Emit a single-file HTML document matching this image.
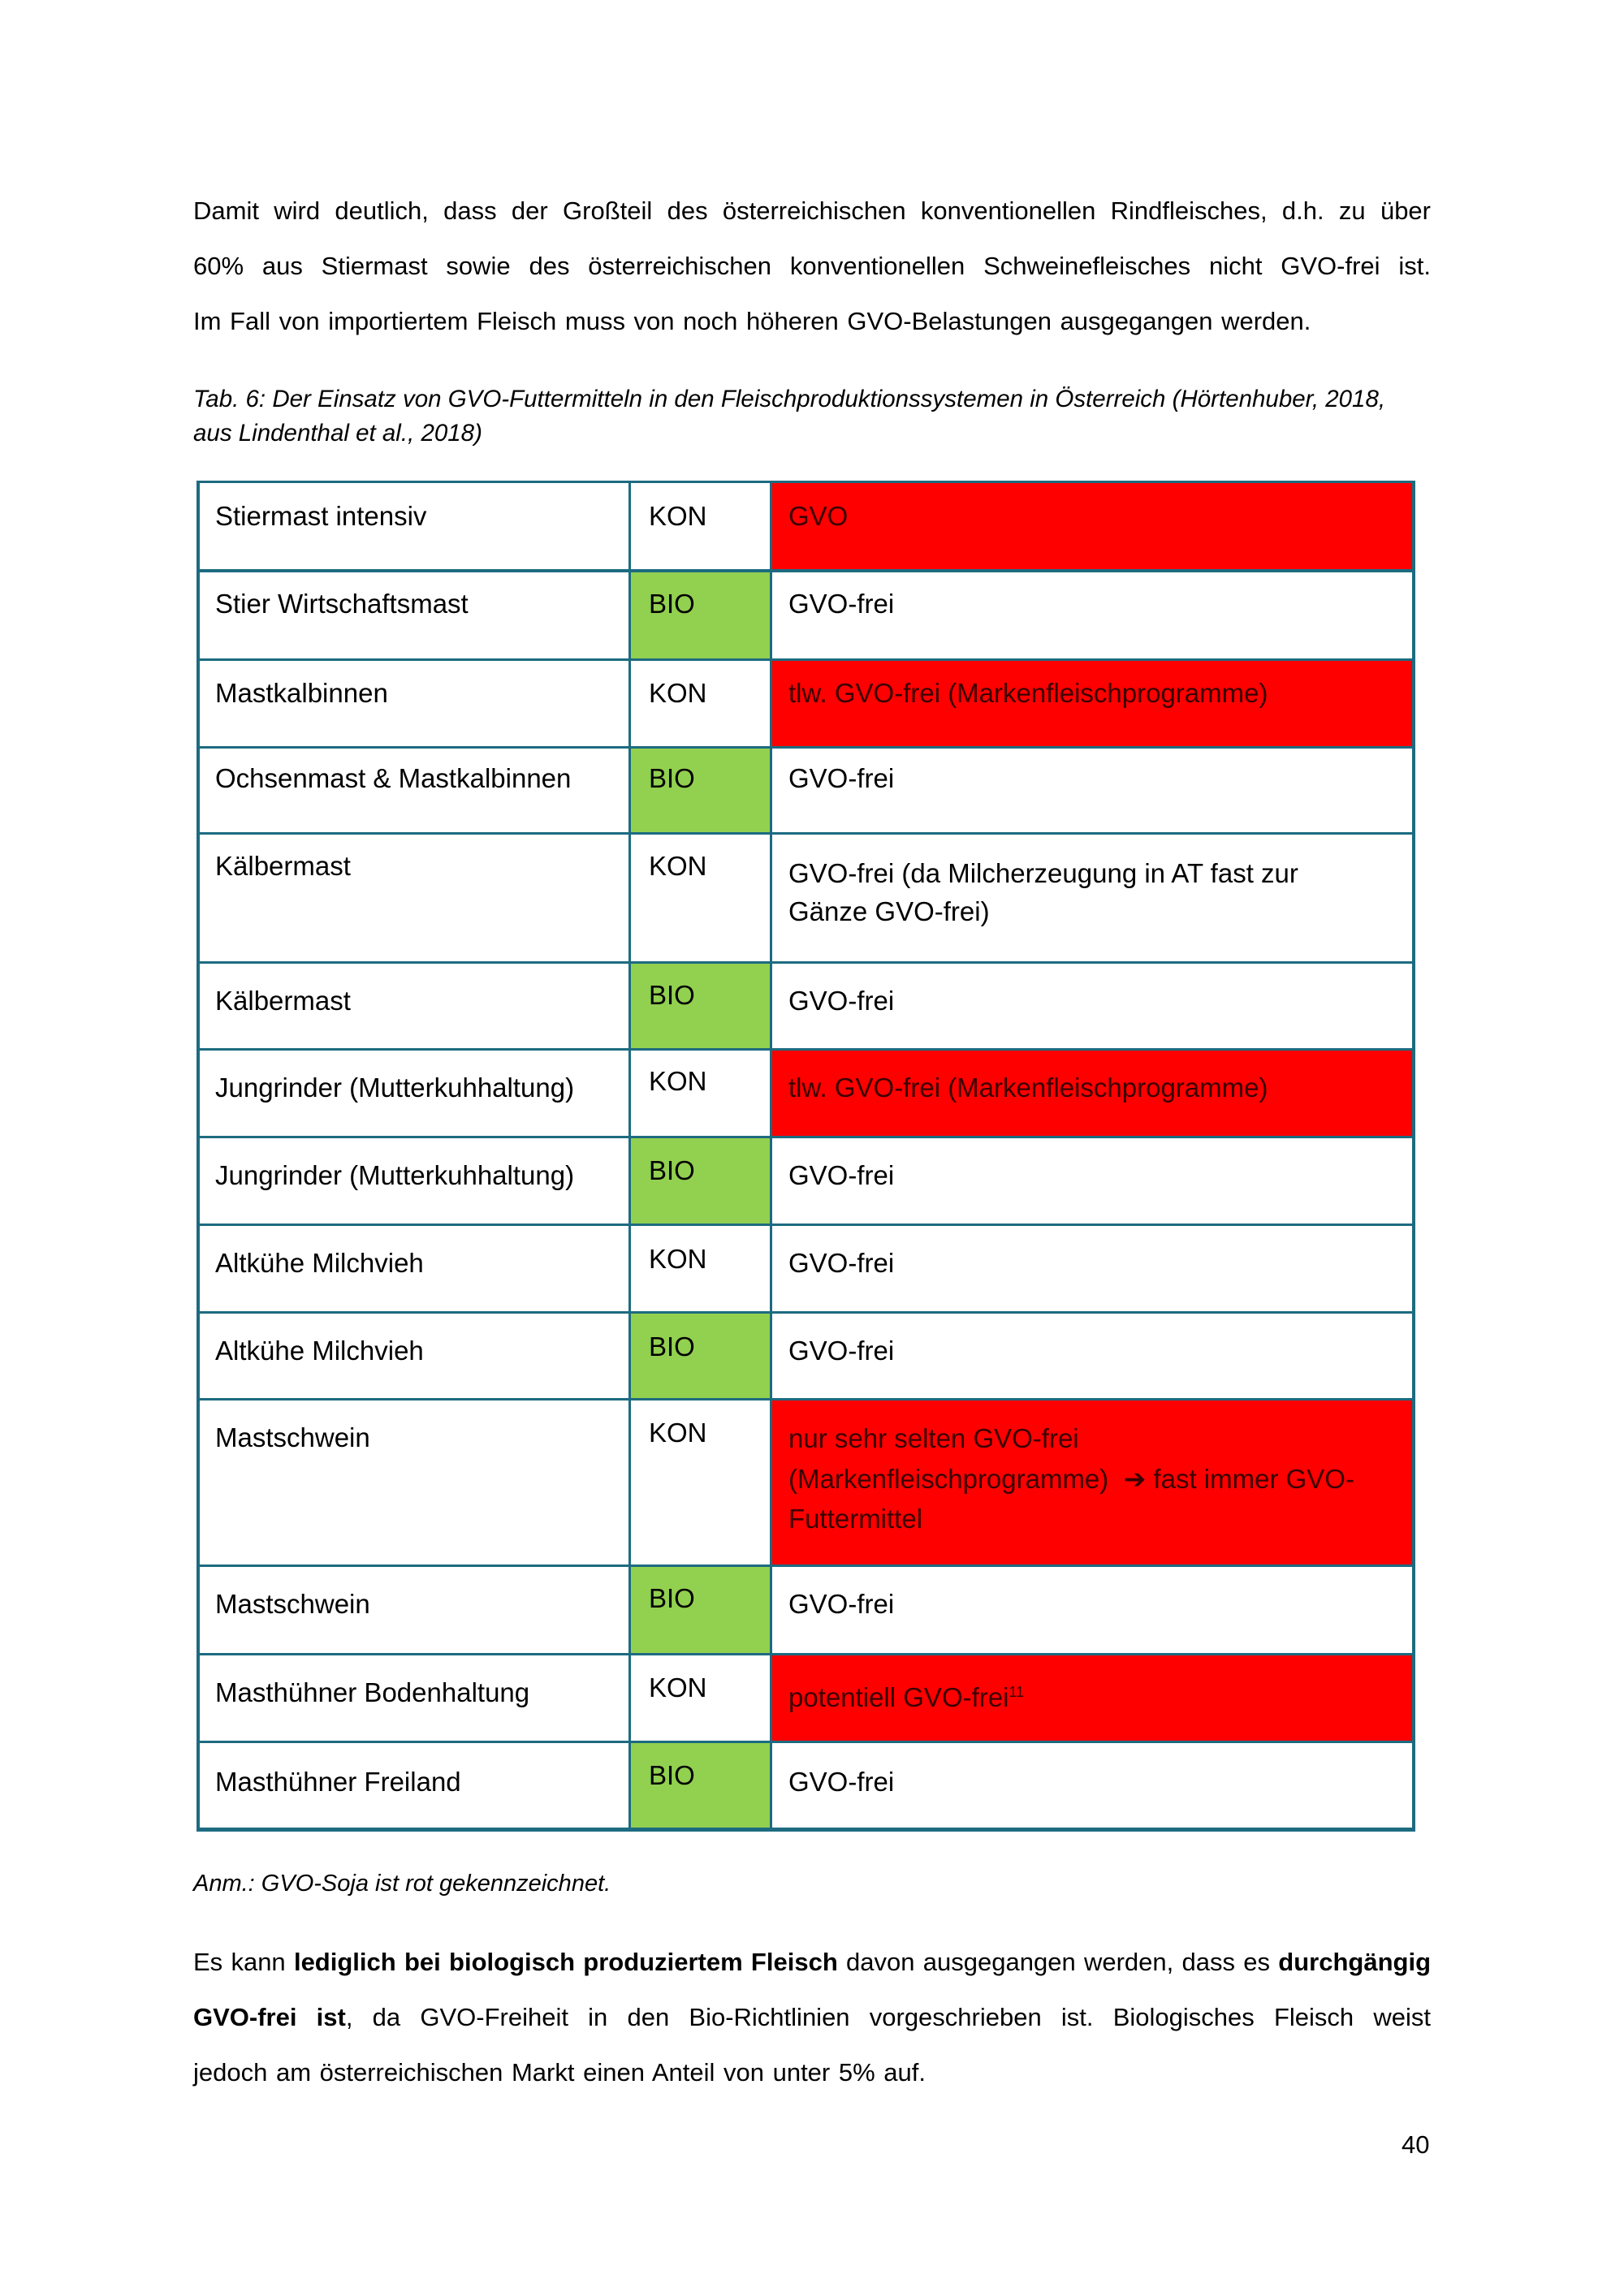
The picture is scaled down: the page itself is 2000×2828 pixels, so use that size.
<!DOCTYPE html>
<html><head><meta charset="utf-8"><style>
body{margin:0;background:#fff}
#p{position:relative;width:2000px;height:2828px;overflow:hidden;font-family:"Liberation Sans",sans-serif;color:#000}
.t{position:absolute;white-space:nowrap;line-height:47px;font-size:33px}
.para{position:absolute;left:238px;width:1524px;font-size:31px;line-height:68px;text-align:justify;text-align-last:justify}
.b{position:absolute}
.h{position:absolute;left:243px;width:1498px;height:3px;background:#1d6b80}
.v{position:absolute;width:3px;background:#1d6b80}
.dr{color:#3a0000}
</style></head><body><div id="p">
<div class="para" style="top:226px">Damit wird deutlich, dass der Großteil des österreichischen konventionellen Rindfleisches, d.h. zu über</div>
<div class="para" style="top:294px">60% aus Stiermast sowie des österreichischen konventionellen Schweinefleisches nicht GVO-frei ist.</div>
<div class="para" style="top:362px;text-align-last:left;word-spacing:2px">Im Fall von importiertem Fleisch muss von noch höheren GVO-Belastungen ausgegangen werden.</div>
<div class="t" style="left:238px;top:472px;font-size:29.5px;font-style:italic;line-height:40px">Tab. 6: Der Einsatz von GVO-Futtermitteln in den Fleischproduktionssystemen in Österreich (Hörtenhuber, 2018,</div>
<div class="t" style="left:238px;top:514px;font-size:29.5px;font-style:italic;line-height:40px">aus Lindenthal et al., 2018)</div>

<div class="b" style="left:949px;top:593px;width:792px;height:109px;background:#f00"></div>
<div class="b" style="left:775px;top:702px;width:174px;height:110px;background:#92d050"></div>
<div class="b" style="left:949px;top:812px;width:792px;height:108px;background:#f00"></div>
<div class="b" style="left:775px;top:920px;width:174px;height:106px;background:#92d050"></div>
<div class="b" style="left:775px;top:1185px;width:174px;height:107px;background:#92d050"></div>
<div class="b" style="left:949px;top:1292px;width:792px;height:108px;background:#f00"></div>
<div class="b" style="left:775px;top:1400px;width:174px;height:108px;background:#92d050"></div>
<div class="b" style="left:775px;top:1616px;width:174px;height:107px;background:#92d050"></div>
<div class="b" style="left:949px;top:1723px;width:792px;height:205px;background:#f00"></div>
<div class="b" style="left:775px;top:1928px;width:174px;height:109px;background:#92d050"></div>
<div class="b" style="left:949px;top:2037px;width:792px;height:108px;background:#f00"></div>
<div class="b" style="left:775px;top:2145px;width:174px;height:108px;background:#92d050"></div>

<div class="h" style="top:592px"></div>
<div class="h" style="top:701px;height:4px"></div>
<div class="h" style="top:811px"></div>
<div class="h" style="top:919px"></div>
<div class="h" style="top:1025px"></div>
<div class="h" style="top:1184px"></div>
<div class="h" style="top:1291px"></div>
<div class="h" style="top:1399px"></div>
<div class="h" style="top:1507px"></div>
<div class="h" style="top:1615px"></div>
<div class="h" style="top:1722px"></div>
<div class="h" style="top:1927px"></div>
<div class="h" style="top:2036px"></div>
<div class="h" style="top:2144px"></div>
<div class="h" style="top:2251px;height:5px"></div>
<div class="v" style="left:242px;top:592px;height:1664px;width:4px"></div>
<div class="v" style="left:774px;top:592px;height:1664px"></div>
<div class="v" style="left:948px;top:592px;height:1664px"></div>
<div class="v" style="left:1739px;top:592px;height:1664px;width:4px"></div>

<div class="t" style="left:265px;top:612px">Stiermast intensiv</div>
<div class="t" style="left:265px;top:720px">Stier Wirtschaftsmast</div>
<div class="t" style="left:265px;top:830px">Mastkalbinnen</div>
<div class="t" style="left:265px;top:935px">Ochsenmast &amp; Mastkalbinnen</div>
<div class="t" style="left:265px;top:1043px">Kälbermast</div>
<div class="t" style="left:265px;top:1209px">Kälbermast</div>
<div class="t" style="left:265px;top:1316px">Jungrinder (Mutterkuhhaltung)</div>
<div class="t" style="left:265px;top:1424px">Jungrinder (Mutterkuhhaltung)</div>
<div class="t" style="left:265px;top:1532px">Altkühe Milchvieh</div>
<div class="t" style="left:265px;top:1640px">Altkühe Milchvieh</div>
<div class="t" style="left:265px;top:1747px">Mastschwein</div>
<div class="t" style="left:265px;top:1952px">Mastschwein</div>
<div class="t" style="left:265px;top:2061px">Masthühner Bodenhaltung</div>
<div class="t" style="left:265px;top:2171px">Masthühner Freiland</div>

<div class="t" style="left:799px;top:612px">KON</div>
<div class="t" style="left:799px;top:720px">BIO</div>
<div class="t" style="left:799px;top:830px">KON</div>
<div class="t" style="left:799px;top:935px">BIO</div>
<div class="t" style="left:799px;top:1043px">KON</div>
<div class="t" style="left:799px;top:1202px">BIO</div>
<div class="t" style="left:799px;top:1308px">KON</div>
<div class="t" style="left:799px;top:1418px">BIO</div>
<div class="t" style="left:799px;top:1527px">KON</div>
<div class="t" style="left:799px;top:1635px">BIO</div>
<div class="t" style="left:799px;top:1741px">KON</div>
<div class="t" style="left:799px;top:1945px">BIO</div>
<div class="t" style="left:799px;top:2055px">KON</div>
<div class="t" style="left:799px;top:2163px">BIO</div>

<div class="t dr" style="left:971px;top:612px">GVO</div>
<div class="t" style="left:971px;top:720px">GVO-frei</div>
<div class="t dr" style="left:971px;top:830px">tlw. GVO-frei (Markenfleischprogramme)</div>
<div class="t" style="left:971px;top:935px">GVO-frei</div>
<div class="t" style="left:971px;top:1052px;line-height:47px">GVO-frei (da Milcherzeugung in AT fast zur<br>Gänze GVO-frei)</div>
<div class="t" style="left:971px;top:1209px">GVO-frei</div>
<div class="t dr" style="left:971px;top:1316px">tlw. GVO-frei (Markenfleischprogramme)</div>
<div class="t" style="left:971px;top:1424px">GVO-frei</div>
<div class="t" style="left:971px;top:1532px">GVO-frei</div>
<div class="t" style="left:971px;top:1640px">GVO-frei</div>
<div class="t dr" style="left:971px;top:1747px;line-height:49.5px">nur sehr selten GVO-frei<br>(Markenfleischprogramme) &nbsp;<b style="font-family:'DejaVu Sans'">➔</b> fast immer GVO-<br>Futtermittel</div>
<div class="t" style="left:971px;top:1952px">GVO-frei</div>
<div class="t dr" style="left:971px;top:2061px">potentiell GVO-frei<sup style="font-size:18px">11</sup></div>
<div class="t" style="left:971px;top:2171px">GVO-frei</div>

<div class="t" style="left:238px;top:2300px;font-size:29px;font-style:italic;line-height:40px">Anm.: GVO-Soja ist rot gekennzeichnet.</div>
<div class="para" style="top:2383px">Es kann <b>lediglich bei biologisch produziertem Fleisch</b> davon ausgegangen werden, dass es <b>durchgängig</b></div>
<div class="para" style="top:2451px"><b>GVO-frei ist</b>, da GVO-Freiheit in den Bio-Richtlinien vorgeschrieben ist. Biologisches Fleisch weist</div>
<div class="para" style="top:2519px;text-align-last:left;word-spacing:2px">jedoch am österreichischen Markt einen Anteil von unter 5% auf.</div>
<div class="t" style="left:1726px;top:2618px;font-size:31px">40</div>
</div></body></html>
